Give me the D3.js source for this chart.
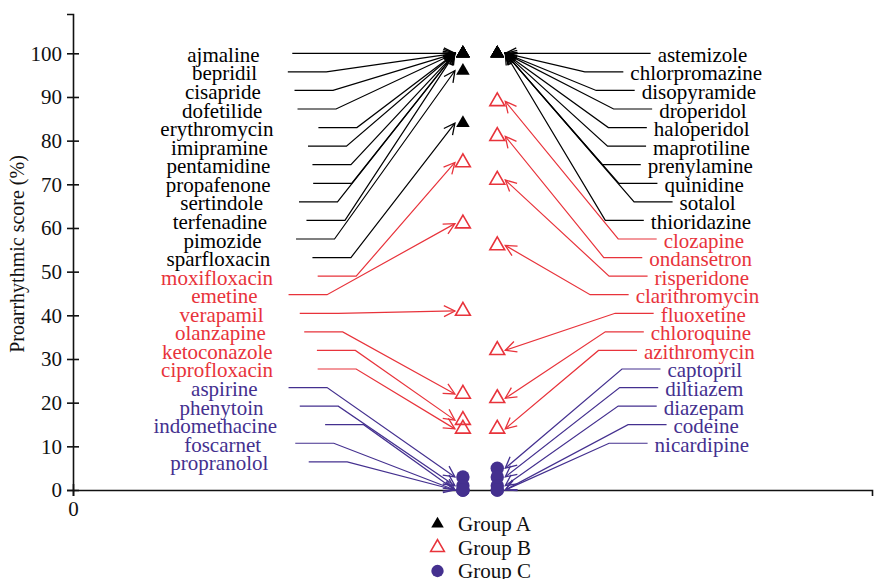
<!DOCTYPE html>
<html>
<head>
<meta charset="utf-8">
<script src="https://cdn.jsdelivr.net/npm/d3@7"></script>
<style>
  body { margin: 0; background: #fff; }
  text { font-family: "Liberation Serif", "Times New Roman", serif; }
</style>
</head>
<body>
<svg id="chart" width="874" height="579"></svg>
<script>
// Drugs listed on the left of the marker columns, with score and group
const leftDrugs = ["ajmaline", "bepridil", "cisapride", "dofetilide", "erythromycin",
  "imipramine", "pentamidine", "propafenone", "sertindole", "terfenadine", "pimozide",
  "sparfloxacin", "moxifloxacin", "emetine", "verapamil", "olanzapine", "ketoconazole",
  "ciprofloxacin", "aspirine", "phenytoin", "indomethacine", "foscarnet", "propranolol"];
const leftScores = [100, 100, 100, 100, 100, 100, 100, 100, 100, 100, 96, 84,
  75, 61, 41, 22, 16, 14,
  3, 1, 0, 0, 0];
const leftGroups = ["A", "A", "A", "A", "A", "A", "A", "A", "A", "A", "A", "A",
  "B", "B", "B", "B", "B", "B",
  "C", "C", "C", "C", "C"];

// Drugs listed on the right
const rightDrugs = ["astemizole", "chlorpromazine", "disopyramide", "droperidol",
  "haloperidol", "maprotiline", "prenylamine", "quinidine", "sotalol", "thioridazine",
  "clozapine", "ondansetron", "risperidone", "clarithromycin", "fluoxetine",
  "chloroquine", "azithromycin", "captopril", "diltiazem", "diazepam", "codeine",
  "nicardipine"];
const rightScores = [100, 100, 100, 100, 100, 100, 100, 100, 100, 100,
  89, 81, 71, 56, 32, 21, 14,
  5, 3, 1, 0, 0];
const rightGroups = ["A", "A", "A", "A", "A", "A", "A", "A", "A", "A",
  "B", "B", "B", "B", "B", "B", "B",
  "C", "C", "C", "C", "C"];

const groupKeys = ["A", "B", "C"];
const groupLabels = ["Group A", "Group B", "Group C"];
const yTickValues = [0, 10, 20, 30, 40, 50, 60, 70, 80, 90, 100];
const xTickValues = [0];

// ---- appearance ----
const colors = { A: "#000000", B: "#e8333b", C: "#44308f" };
const fontSize = 21;

const svg = d3.select("#chart");

const x = d3.scaleLinear().domain([0, 100]).range([73, 872]);
const y = d3.scaleLinear().domain([0, 109]).range([490, 14]);

const colX = { left: x(48.8), right: x(53.1) };   // marker columns
const rowStep = 18.57;                             // label line spacing (px)

// ---- axes ----
const yAxis = d3.axisLeft(y).tickValues(yTickValues).tickSizeOuter(0)
  .tickSize(6).tickPadding(5);
const gy = svg.append("g").attr("transform", `translate(${x(0)},0)`).call(yAxis);
gy.selectAll(".tick line").attr("x1", -6).attr("x2", 6);

const xAxis = d3.axisBottom(x).tickValues(xTickValues).tickSizeOuter(0)
  .tickSize(6).tickPadding(5);
const gx = svg.append("g").attr("transform", `translate(0,${y(0)})`).call(xAxis);
gx.selectAll(".tick line").attr("y1", -6).attr("y2", 6);

[gy, gx].forEach(g => {
  g.selectAll("text").attr("font-size", fontSize).attr("fill", "#111")
    .attr("font-family", "Liberation Serif, serif");
  g.selectAll("path.domain, line").attr("stroke", "#111").attr("stroke-width", 1.6);
});

svg.append("text")
  .attr("transform", `translate(24,${254}) rotate(-90)`)
  .attr("text-anchor", "middle")
  .attr("font-size", 20)
  .attr("fill", "#111")
  .text("Proarrhythmic score (%)");

// ---- arrowheads ----
const defs = svg.append("defs");
groupKeys.forEach(k => {
  defs.append("marker")
    .attr("id", "arrow-" + k)
    .attr("viewBox", "-13 -7 15 14")
    .attr("refX", 0).attr("refY", 0)
    .attr("markerUnits", "userSpaceOnUse")
    .attr("markerWidth", 15).attr("markerHeight", 14)
    .attr("orient", "auto")
    .append("path")
    .attr("d", "M-11,-5.5L0,0L-11,5.5")
    .attr("fill", "none")
    .attr("stroke", colors[k])
    .attr("stroke-width", 1.3);
});

const linesG = svg.append("g");
const labelsG = svg.append("g");
const marksG = svg.append("g");
const line = d3.line();

// Left-hand labels and their leaders
leftDrugs.forEach((name, i) => {
  const g = leftGroups[i];
  const ly = y(100) + i * rowStep;
  const t = labelsG.append("text")
    .attr("y", ly + 8.5)
    .attr("font-size", fontSize)
    .attr("fill", colors[g])
    .attr("text-anchor", "middle")
    .text(name);
  const w = t.node().getComputedTextLength();
  t.attr("x", 235 - 0.16 * w);
  const start = 246 + 0.64 * w;
  const elbow = start + 38.5;
  linesG.append("path")
    .attr("d", line([[start, ly], [elbow, ly], [colX.left - 8, y(leftScores[i])]]))
    .attr("fill", "none")
    .attr("stroke", colors[g])
    .attr("stroke-width", 1.2)
    .attr("marker-end", `url(#arrow-${g})`);
});

// Right-hand labels and their leaders
rightDrugs.forEach((name, i) => {
  const g = rightGroups[i];
  const ly = y(100) + i * rowStep;
  const t = labelsG.append("text")
    .attr("y", ly + 8.5)
    .attr("font-size", fontSize)
    .attr("fill", colors[g])
    .attr("text-anchor", "middle")
    .text(name);
  const w = t.node().getComputedTextLength();
  const cx = 716 - 0.15 * w;
  t.attr("x", cx);
  const end = cx - w / 2 - 7;
  const elbow = end - 38.5;
  linesG.append("path")
    .attr("d", line([[end, ly], [elbow, ly], [colX.right + 8, y(rightScores[i])]]))
    .attr("fill", "none")
    .attr("stroke", colors[g])
    .attr("stroke-width", 1.2)
    .attr("marker-end", `url(#arrow-${g})`);
});

// ---- markers ----
const triA = d3.symbol().type(d3.symbolTriangle).size(80);
const triB = d3.symbol().type(d3.symbolTriangle).size(95);

function drawMark(sel, g, cx, cy, scale) {
  if (g === "A") {
    sel.append("path").attr("d", triA.size(80 * scale)())
      .attr("transform", `translate(${cx},${cy})`)
      .attr("fill", colors.A);
  } else if (g === "B") {
    sel.append("path").attr("d", triB.size(95 * scale)())
      .attr("transform", `translate(${cx},${cy})`)
      .attr("fill", "none").attr("stroke", colors.B).attr("stroke-width", 1.6);
  } else {
    sel.append("circle").attr("cx", cx).attr("cy", cy).attr("r", 6.7 * Math.sqrt(scale))
      .attr("fill", colors.C);
  }
}

leftScores.forEach((v, i) => drawMark(marksG, leftGroups[i], colX.left, y(v), 1));
rightScores.forEach((v, i) => drawMark(marksG, rightGroups[i], colX.right, y(v), 1));

// ---- legend ----
const legend = svg.append("g");
groupKeys.forEach((k, i) => {
  const ly = 524 + i * 23.5;
  drawMark(legend, k, 437.5, ly, 0.85);
  legend.append("text")
    .attr("x", 458).attr("y", ly + 7)
    .attr("font-size", fontSize)
    .attr("fill", "#111")
    .text(groupLabels[i]);
});
</script>
</body>
</html>
